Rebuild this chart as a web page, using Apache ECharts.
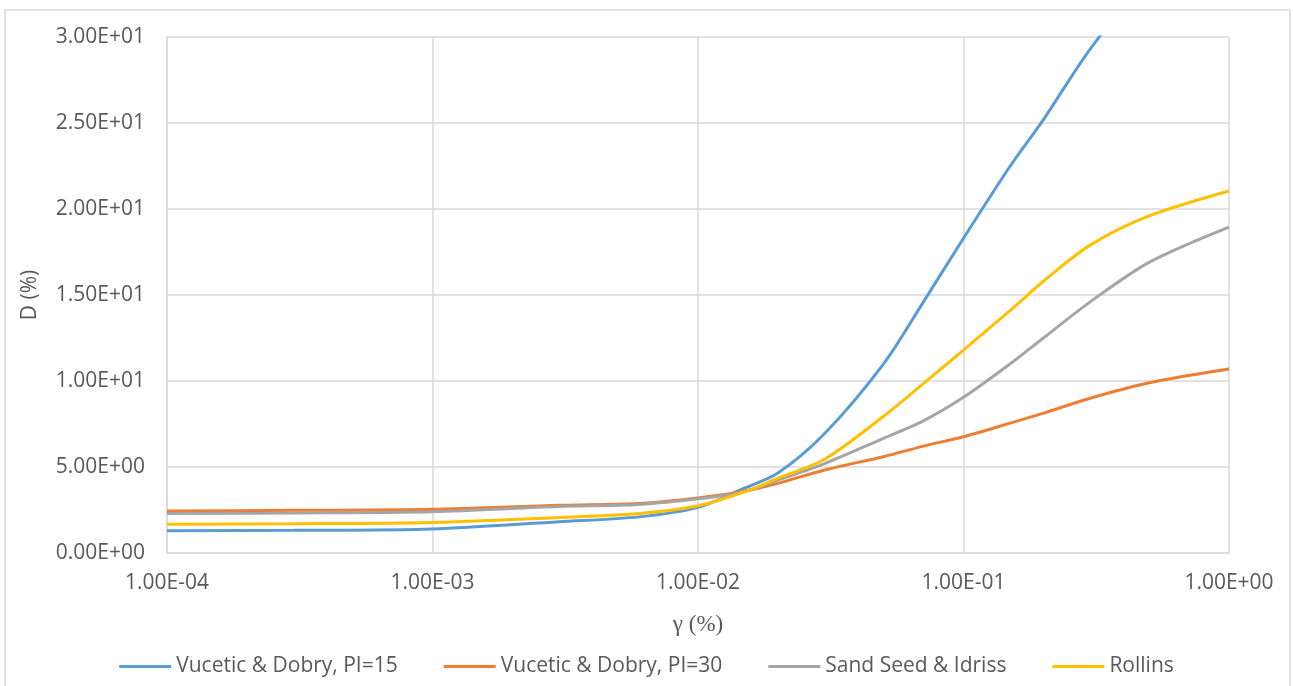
<!DOCTYPE html>
<html>
<head>
<meta charset="utf-8">
<script src="https://cdn.jsdelivr.net/npm/echarts@6/dist/echarts.min.js"></script>
<style>
  html, body { margin: 0; padding: 0; background: #ffffff; }
  #chart { width: 1293px; height: 686px; }
</style>
</head>
<body>
<div id="chart"></div>
<script>
// Shear strain amplitude γ (%) shared by all damping curves
const gamma = [1e-4, 3e-4, 1e-3, 3e-3, 6e-3, 1e-2, 1.5e-2, 2e-2, 3e-2, 5e-2, 7e-2, 0.1, 0.15, 0.2, 0.3, 0.5, 1];

// Damping ratio D (%) for each model
const vdPI15  = [1.30, 1.32, 1.40, 1.82, 2.10, 2.65, 3.78, 4.65, 6.95, 11.0, 14.5, 18.3, 22.5, 25.2, 29.3, 33.5, 38.0];
const vdPI30  = [2.44, 2.48, 2.54, 2.78, 2.88, 3.20, 3.60, 4.05, 4.83, 5.60, 6.20, 6.76, 7.55, 8.13, 9.00, 9.90, 10.7];
const seedIdr = [2.30, 2.33, 2.40, 2.70, 2.82, 3.15, 3.58, 4.24, 5.20, 6.67, 7.65, 9.05, 11.0, 12.5, 14.6, 16.9, 18.95];
const rollins = [1.67, 1.70, 1.78, 2.07, 2.30, 2.75, 3.56, 4.35, 5.45, 7.95, 9.80, 11.8, 14.1, 15.8, 17.9, 19.6, 21.05];

const seriesNames = ['Vucetic & Dobry, PI=15', 'Vucetic & Dobry, PI=30', 'Sand Seed & Idriss', 'Rollins'];
const seriesValues = [vdPI15, vdPI30, seedIdr, rollins];
const seriesColors = ['#5B9BD5', '#ED7D31', '#A5A5A5', '#FFC000'];

// Tick label format like 1.00E-04
function sci(v) {
  if (v === 0) return '0.00E+00';
  const exp = Math.floor(Math.log10(Math.abs(v)) + 1e-9);
  const mant = v / Math.pow(10, exp);
  const sign = exp < 0 ? '-' : '+';
  const e = String(Math.abs(exp)).padStart(2, '0');
  return mant.toFixed(2) + 'E' + sign + e;
}

const labelFont = "'Open Sans', sans-serif";
const gridColor = '#d9d9d9';

const chart = echarts.init(document.getElementById('chart'));
chart.setOption({
  animation: false,
  backgroundColor: '#ffffff',
  graphic: [{
    type: 'rect',
    shape: { x: 5, y: 10, width: 1285, height: 700 },
    style: { fill: 'none', stroke: gridColor, lineWidth: 1.5 },
    silent: true
  }],
  grid: { left: 167, right: 64, top: 37, bottom: 133 },
  xAxis: {
    type: 'log',
    logBase: 10,
    min: 1e-4,
    max: 1,
    name: 'γ (%)',
    nameLocation: 'middle',
    nameGap: 60,
    nameTextStyle: { fontFamily: "'Liberation Serif', serif", fontSize: 23, color: '#595959' },
    axisLine: { show: true, lineStyle: { color: gridColor, width: 1.5 } },
    axisTick: { show: false },
    axisLabel: { formatter: sci, fontFamily: labelFont, fontSize: 21, color: '#595959', margin: 20 },
    splitLine: { show: true, lineStyle: { color: gridColor, width: 1.5 } },
    minorTick: { show: false }
  },
  yAxis: {
    type: 'value',
    min: 0,
    max: 30,
    interval: 5,
    name: 'D (%)',
    nameLocation: 'middle',
    nameGap: 126,
    nameTextStyle: { fontFamily: labelFont, fontSize: 21, color: '#595959' },
    axisLine: { show: true, lineStyle: { color: gridColor, width: 1.5 } },
    axisTick: { show: false },
    axisLabel: { formatter: sci, fontFamily: labelFont, fontSize: 21, color: '#595959', margin: 22 },
    splitLine: { show: true, lineStyle: { color: gridColor, width: 1.5 } }
  },
  legend: {
    bottom: 4,
    left: 'center',
    icon: 'rect',
    itemWidth: 52,
    itemHeight: 3,
    itemGap: 46,
    textStyle: { fontFamily: labelFont, fontSize: 21, color: '#595959' },
    data: seriesNames
  },
  series: seriesNames.map((name, i) => ({
    name: name,
    type: 'line',
    data: gamma.map((g, j) => [g, seriesValues[i][j]]),
    showSymbol: false,
    symbol: 'none',
    smooth: 0.3,
    clip: true,
    color: seriesColors[i],
    lineStyle: { color: seriesColors[i], width: 3 }
  }))
});
</script>
</body>
</html>
